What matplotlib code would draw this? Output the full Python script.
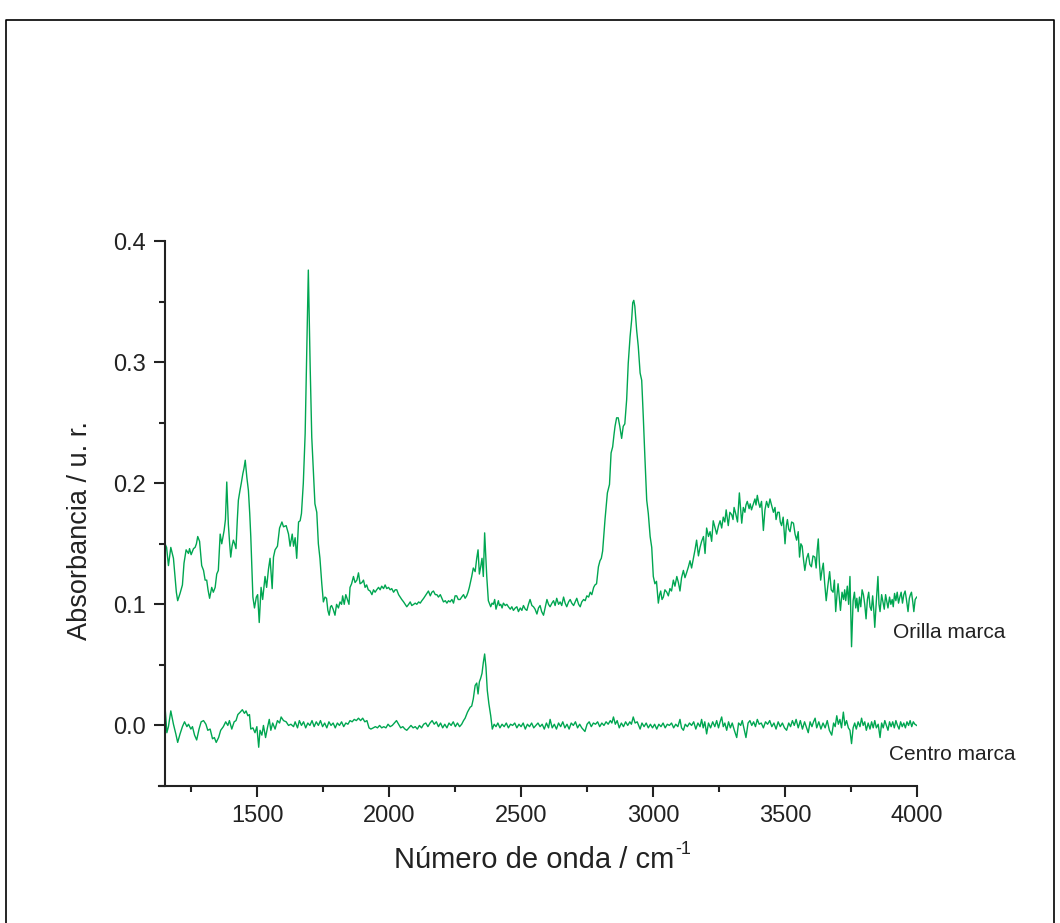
import matplotlib
matplotlib.use("Agg")
import matplotlib.pyplot as plt
from matplotlib.lines import Line2D
from matplotlib.ticker import MultipleLocator

plt.rcParams['font.family'] = ['Liberation Sans', 'DejaVu Sans']

# ---- data: "Orilla marca" (upper spectrum) ----
orilla_x = [1151, 1157, 1164, 1173, 1183, 1189, 1194, 1199, 1208, 1217, 1223, 1231, 1240, 1244, 1250,
            1259, 1265, 1270, 1275, 1282, 1290, 1297, 1303, 1309, 1314, 1320, 1328, 1334, 1341, 1347,
            1353, 1360, 1366, 1375, 1380, 1385, 1391, 1396, 1400, 1405, 1410, 1415, 1420, 1425, 1429,
            1435, 1440, 1446, 1450, 1455, 1461, 1467, 1472, 1476, 1480, 1484, 1490, 1497, 1502, 1508,
            1515, 1521, 1530, 1536, 1543, 1549, 1557, 1562, 1568, 1577, 1585, 1594, 1600, 1610, 1619,
            1625, 1633, 1638, 1644, 1650, 1657, 1663, 1668, 1675, 1682, 1688, 1694, 1701, 1707, 1713,
            1719, 1726, 1732, 1738, 1745, 1751, 1757, 1763, 1768, 1773, 1778, 1782, 1788, 1795, 1801,
            1808, 1814, 1820, 1824, 1830, 1836, 1842, 1848, 1852, 1858, 1865, 1871, 1878, 1884, 1890,
            1897, 1903, 1909, 1915, 1921, 1928, 1935, 1941, 1947, 1953, 1960, 1966, 1972, 1979, 1985,
            1991, 1998, 2004, 2010, 2017, 2023, 2029, 2036, 2042, 2048, 2055, 2061, 2067, 2074, 2080,
            2086, 2093, 2099, 2105, 2112, 2118, 2124, 2131, 2137, 2143, 2149, 2156, 2162, 2168, 2175,
            2181, 2187, 2194, 2200, 2206, 2213, 2219, 2225, 2231, 2238, 2244, 2250, 2256, 2262, 2269,
            2275, 2282, 2288, 2294, 2299, 2304, 2308, 2313, 2319, 2326, 2332, 2337, 2342, 2347, 2352,
            2357, 2362, 2370, 2376, 2385, 2390, 2395, 2400, 2405, 2410, 2414, 2418, 2423, 2428, 2433,
            2440, 2446, 2452, 2459, 2465, 2471, 2478, 2484, 2490, 2497, 2503, 2509, 2516, 2522, 2528,
            2534, 2541, 2547, 2553, 2560, 2566, 2572, 2578, 2585, 2591, 2598, 2604, 2610, 2617, 2623,
            2629, 2635, 2642, 2648, 2654, 2661, 2667, 2673, 2680, 2686, 2692, 2699, 2705, 2711, 2718,
            2724, 2730, 2737, 2743, 2749, 2756, 2762, 2768, 2775, 2780, 2786, 2793, 2799, 2804, 2809,
            2818, 2827, 2835, 2841, 2847, 2852, 2856, 2862, 2868, 2874, 2881, 2887, 2893, 2900, 2906,
            2913, 2919, 2923, 2927, 2931, 2938, 2944, 2951, 2957, 2963, 2969, 2976, 2982, 2989, 2995,
            3001, 3007, 3013, 3020, 3025, 3029, 3034, 3039, 3045, 3052, 3058, 3064, 3070, 3077, 3083,
            3090, 3096, 3102, 3108, 3115, 3121, 3127, 3134, 3140, 3146, 3153, 3159, 3165, 3172, 3178,
            3184, 3191, 3197, 3203, 3210, 3216, 3222, 3228, 3235, 3241, 3248, 3254, 3260, 3266, 3272,
            3277, 3285, 3291, 3298, 3303, 3307, 3313, 3320, 3327, 3336, 3342, 3348, 3352, 3357, 3364,
            3368, 3373, 3380, 3386, 3390, 3395, 3400, 3405, 3411, 3418, 3424, 3430, 3437, 3443, 3450,
            3456, 3462, 3466, 3472, 3478, 3482, 3487, 3493, 3500, 3505, 3509, 3514, 3519, 3525, 3532,
            3538, 3544, 3550, 3555, 3560, 3565, 3570, 3575, 3582, 3588, 3594, 3600, 3606, 3613, 3618,
            3622, 3626, 3630, 3635, 3640, 3645, 3650, 3656, 3662, 3669, 3675, 3682, 3687, 3692, 3697,
            3701, 3706, 3710, 3716, 3722, 3726, 3730, 3736, 3741, 3746, 3752, 3758, 3763, 3768, 3772,
            3777, 3782, 3787, 3792, 3797, 3802, 3807, 3812, 3817, 3822, 3827, 3832, 3836, 3840, 3846,
            3852, 3856, 3860, 3866, 3871, 3876, 3881, 3886, 3890, 3896, 3901, 3906, 3910, 3915, 3920,
            3925, 3930, 3935, 3940, 3945, 3950, 3955, 3960, 3966, 3971, 3975, 3979, 3984, 3988, 3993,
            3999]
orilla_y = [0.150, 0.147, 0.132, 0.147, 0.138, 0.123, 0.110, 0.103, 0.109, 0.116, 0.134, 0.145, 0.142, 0.146, 0.141,
            0.146, 0.147, 0.150, 0.156, 0.152, 0.132, 0.128, 0.120, 0.120, 0.112, 0.105, 0.114, 0.110, 0.114, 0.125,
            0.128, 0.158, 0.150, 0.161, 0.170, 0.201, 0.166, 0.150, 0.139, 0.148, 0.153, 0.150, 0.146, 0.170, 0.186,
            0.194, 0.200, 0.208, 0.212, 0.219, 0.205, 0.194, 0.175, 0.156, 0.130, 0.106, 0.097, 0.106, 0.108, 0.085,
            0.114, 0.104, 0.123, 0.114, 0.129, 0.138, 0.113, 0.139, 0.145, 0.148, 0.163, 0.168, 0.164, 0.165, 0.158,
            0.148, 0.158, 0.148, 0.155, 0.138, 0.168, 0.169, 0.175, 0.200, 0.241, 0.310, 0.376, 0.296, 0.238, 0.211,
            0.183, 0.176, 0.150, 0.138, 0.117, 0.102, 0.106, 0.105, 0.095, 0.091, 0.098, 0.099, 0.096, 0.091, 0.100,
            0.097, 0.102, 0.100, 0.107, 0.100, 0.108, 0.104, 0.100, 0.114, 0.117, 0.123, 0.118, 0.120, 0.126, 0.117,
            0.118, 0.120, 0.114, 0.116, 0.112, 0.111, 0.108, 0.112, 0.110, 0.112, 0.114, 0.112, 0.115, 0.113, 0.116,
            0.113, 0.114, 0.112, 0.113, 0.110, 0.112, 0.112, 0.108, 0.106, 0.104, 0.102, 0.100, 0.098, 0.100, 0.102,
            0.099, 0.100, 0.101, 0.100, 0.102, 0.101, 0.103, 0.105, 0.107, 0.109, 0.111, 0.107, 0.110, 0.111, 0.108,
            0.108, 0.106, 0.108, 0.105, 0.102, 0.103, 0.101, 0.103, 0.102, 0.104, 0.101, 0.107, 0.107, 0.104, 0.104,
            0.106, 0.108, 0.105, 0.107, 0.110, 0.114, 0.118, 0.123, 0.130, 0.127, 0.138, 0.145, 0.125, 0.131, 0.138,
            0.123, 0.159, 0.123, 0.103, 0.098, 0.101, 0.100, 0.104, 0.096, 0.100, 0.103, 0.099, 0.100, 0.097, 0.101,
            0.099, 0.100, 0.098, 0.096, 0.098, 0.095, 0.097, 0.098, 0.094, 0.097, 0.095, 0.099, 0.096, 0.095, 0.100,
            0.104, 0.099, 0.098, 0.096, 0.092, 0.097, 0.099, 0.094, 0.091, 0.097, 0.104, 0.100, 0.098, 0.101, 0.103,
            0.099, 0.105, 0.100, 0.102, 0.099, 0.106, 0.101, 0.098, 0.102, 0.104, 0.101, 0.099, 0.102, 0.105, 0.100,
            0.098, 0.102, 0.104, 0.103, 0.107, 0.106, 0.110, 0.108, 0.114, 0.116, 0.117, 0.131, 0.136, 0.138, 0.144,
            0.170, 0.192, 0.199, 0.225, 0.230, 0.240, 0.247, 0.254, 0.254, 0.247, 0.237, 0.247, 0.249, 0.269, 0.299,
            0.321, 0.335, 0.349, 0.351, 0.346, 0.326, 0.313, 0.291, 0.285, 0.255, 0.222, 0.186, 0.175, 0.156, 0.147,
            0.123, 0.117, 0.119, 0.101, 0.108, 0.111, 0.104, 0.106, 0.112, 0.110, 0.107, 0.113, 0.111, 0.120, 0.115,
            0.123, 0.118, 0.111, 0.122, 0.128, 0.122, 0.126, 0.131, 0.136, 0.130, 0.138, 0.145, 0.153, 0.140, 0.147,
            0.152, 0.156, 0.142, 0.163, 0.156, 0.160, 0.152, 0.169, 0.163, 0.158, 0.165, 0.169, 0.163, 0.172, 0.168,
            0.178, 0.165, 0.176, 0.174, 0.170, 0.180, 0.175, 0.168, 0.192, 0.167, 0.180, 0.176, 0.182, 0.185, 0.179,
            0.183, 0.178, 0.183, 0.187, 0.182, 0.190, 0.184, 0.180, 0.185, 0.161, 0.178, 0.185, 0.180, 0.187, 0.181,
            0.176, 0.180, 0.170, 0.176, 0.176, 0.168, 0.165, 0.172, 0.150, 0.165, 0.170, 0.162, 0.160, 0.168, 0.167,
            0.158, 0.153, 0.160, 0.139, 0.150, 0.148, 0.137, 0.128, 0.138, 0.142, 0.133, 0.131, 0.140, 0.139, 0.130,
            0.145, 0.154, 0.135, 0.120, 0.128, 0.134, 0.118, 0.103, 0.115, 0.127, 0.112, 0.110, 0.120, 0.094, 0.108,
            0.117, 0.105, 0.095, 0.110, 0.104, 0.112, 0.103, 0.115, 0.100, 0.123, 0.065, 0.103, 0.110, 0.097, 0.105,
            0.094, 0.106, 0.098, 0.112, 0.108, 0.100, 0.088, 0.104, 0.110, 0.098, 0.095, 0.107, 0.096, 0.081, 0.103,
            0.123, 0.100, 0.094, 0.108, 0.102, 0.096, 0.108, 0.102, 0.097, 0.106, 0.100, 0.104, 0.098, 0.109, 0.103,
            0.110, 0.101, 0.106, 0.110, 0.101, 0.108, 0.111, 0.104, 0.094, 0.105, 0.108, 0.110, 0.102, 0.094, 0.104,
            0.106]

# ---- data: "Centro marca" (lower spectrum) ----
centro_x = [1151, 1158, 1164, 1173, 1183, 1192, 1199, 1208, 1217, 1225, 1234, 1240, 1249, 1255, 1263,
            1271, 1280, 1288, 1297, 1306, 1313, 1322, 1331, 1338, 1345, 1354, 1362, 1372, 1381, 1389,
            1395, 1404, 1413, 1420, 1427, 1436, 1444, 1452, 1458, 1465, 1471, 1476, 1484, 1492, 1499,
            1506, 1511, 1518, 1524, 1532, 1539, 1546, 1552, 1559, 1568, 1577, 1585, 1591, 1600, 1610,
            1619, 1628, 1638, 1644, 1653, 1660, 1668, 1676, 1684, 1692, 1700, 1708, 1716, 1724, 1732,
            1740, 1748, 1756, 1764, 1772, 1780, 1788, 1796, 1804, 1812, 1820, 1828, 1836, 1844, 1852,
            1860, 1868, 1876, 1884, 1892, 1900, 1908, 1916, 1924, 1931, 1940, 1948, 1956, 1964, 1972,
            1980, 1988, 1996, 2004, 2012, 2020, 2028, 2036, 2044, 2052, 2060, 2067, 2075, 2083, 2091,
            2099, 2107, 2115, 2123, 2131, 2139, 2147, 2155, 2163, 2171, 2179, 2187, 2195, 2203, 2211,
            2219, 2227, 2235, 2243, 2251, 2259, 2267, 2275, 2282, 2288, 2297, 2307, 2313, 2319, 2326,
            2332, 2337, 2342, 2347, 2352, 2357, 2362, 2367, 2372, 2378, 2385, 2391, 2398, 2405, 2412,
            2420, 2428, 2436, 2444, 2452, 2460, 2468, 2476, 2484, 2492, 2500, 2508, 2516, 2524, 2532,
            2540, 2548, 2556, 2564, 2572, 2580, 2588, 2596, 2604, 2610, 2618, 2626, 2634, 2642, 2650,
            2658, 2666, 2674, 2682, 2690, 2698, 2706, 2714, 2722, 2730, 2742, 2750, 2758, 2766, 2774,
            2782, 2790, 2798, 2806, 2814, 2822, 2830, 2838, 2844, 2850, 2857, 2864, 2872, 2880, 2888,
            2896, 2904, 2912, 2918, 2925, 2932, 2940, 2951, 2958, 2966, 2974, 2982, 2990, 2998, 3006,
            3014, 3022, 3030, 3038, 3046, 3054, 3062, 3070, 3078, 3086, 3094, 3102, 3108, 3115, 3122,
            3130, 3138, 3146, 3154, 3162, 3170, 3178, 3184, 3190, 3196, 3203, 3210, 3218, 3226, 3234,
            3241, 3248, 3254, 3260, 3266, 3272, 3279, 3286, 3293, 3300, 3308, 3317, 3324, 3332, 3338,
            3345, 3352, 3360, 3367, 3374, 3381, 3388, 3395, 3402, 3410, 3418, 3426, 3434, 3442, 3450,
            3458, 3466, 3474, 3482, 3490, 3498, 3506, 3514, 3521, 3528, 3535, 3542, 3550, 3558, 3566,
            3574, 3582, 3588, 3595, 3602, 3608, 3614, 3620, 3628, 3636, 3644, 3652, 3660, 3668, 3677,
            3684, 3690, 3696, 3702, 3708, 3714, 3721, 3727, 3733, 3740, 3746, 3752, 3758, 3764, 3770,
            3777, 3784, 3790, 3796, 3802, 3808, 3815, 3822, 3828, 3834, 3840, 3846, 3853, 3860, 3866,
            3872, 3878, 3884, 3890, 3896, 3902, 3908, 3914, 3920, 3926, 3932, 3938, 3944, 3950, 3956,
            3962, 3968, 3974, 3980, 3986, 3992, 3999]
centro_y = [0.016, -0.006, -0.001, 0.012, 0.001, -0.007, -0.014, -0.007, -0.001, 0.003, -0.001, 0.001, -0.003, -0.001, -0.008,
            -0.012, -0.003, 0.003, 0.004, 0.001, -0.004, -0.003, -0.011, -0.010, -0.014, -0.010, -0.004, -0.001, 0.003, 0.000,
            0.004, -0.003, 0.003, 0.004, 0.009, 0.011, 0.013, 0.010, 0.012, 0.008, 0.009, -0.003, -0.002, -0.006, -0.001,
            -0.018, -0.004, -0.008, 0.000, -0.010, -0.002, 0.005, -0.004, 0.002, -0.003, 0.004, 0.002, 0.007, 0.004, 0.003,
            0.000, 0.001, -0.001, 0.003, -0.002, 0.004, 0.000, 0.003, -0.002, 0.002, 0.000, 0.004, -0.001, 0.003, 0.000,
            0.004, -0.001, 0.002, -0.002, 0.003, 0.000, 0.002, -0.002, 0.002, 0.000, 0.003, -0.001, 0.002, 0.001, 0.004,
            0.003, 0.005, 0.004, 0.006, 0.004, 0.006, 0.003, 0.004, -0.002, -0.003, -0.002, -0.001, -0.002, 0.000, -0.002,
            -0.001, -0.002, 0.001, -0.001, 0.000, 0.002, 0.004, 0.001, -0.002, -0.001, -0.003, -0.004, -0.002, 0.000, -0.002,
            -0.001, -0.003, 0.000, -0.002, 0.001, 0.002, -0.001, 0.002, 0.004, 0.001, 0.003, -0.001, 0.002, -0.002, 0.001,
            -0.002, 0.002, 0.000, 0.003, -0.001, 0.002, -0.001, 0.001, 0.004, 0.006, 0.011, 0.015, 0.016, 0.022, 0.033,
            0.035, 0.026, 0.036, 0.039, 0.043, 0.052, 0.059, 0.048, 0.029, 0.018, 0.008, -0.003, 0.001, -0.001, 0.002,
            -0.002, 0.001, -0.001, 0.002, -0.002, 0.001, 0.000, 0.002, -0.002, 0.001, -0.001, 0.002, -0.003, 0.001, -0.001,
            0.002, -0.002, 0.000, 0.002, -0.001, 0.001, -0.003, 0.002, -0.002, 0.005, -0.002, 0.001, -0.003, 0.002, -0.001,
            0.003, -0.002, 0.001, -0.003, 0.002, 0.000, 0.003, -0.002, 0.001, -0.002, -0.005, 0.001, 0.003, -0.001, 0.002,
            0.001, 0.003, -0.001, 0.002, 0.000, 0.003, 0.001, 0.004, 0.002, 0.007, 0.001, 0.004, -0.002, 0.002, -0.001,
            0.003, 0.000, 0.003, 0.001, 0.007, 0.002, 0.003, -0.003, 0.002, -0.001, 0.002, -0.002, 0.001, -0.002, 0.001,
            -0.003, 0.001, -0.001, 0.002, -0.002, 0.001, 0.000, 0.002, -0.002, 0.001, -0.001, 0.005, -0.002, -0.004, 0.001,
            -0.001, 0.002, 0.000, 0.003, -0.003, 0.002, -0.001, 0.005, -0.002, 0.003, -0.007, 0.002, -0.002, 0.003, -0.001,
            0.004, -0.002, 0.003, 0.007, -0.001, 0.002, -0.004, 0.003, -0.002, 0.002, -0.004, -0.010, 0.002, 0.000, 0.004,
            -0.003, -0.010, 0.002, 0.004, 0.000, 0.003, -0.001, 0.005, 0.001, 0.002, -0.002, 0.003, 0.001, 0.004, -0.001,
            0.002, -0.003, 0.003, -0.001, 0.002, -0.002, -0.004, 0.002, -0.001, 0.004, 0.000, 0.005, -0.002, 0.004, -0.003,
            0.003, -0.002, -0.006, 0.003, -0.001, 0.003, 0.006, -0.002, 0.003, -0.003, 0.002, -0.002, 0.004, -0.004, -0.008,
            0.002, -0.001, 0.008, 0.001, 0.005, -0.002, 0.011, 0.000, 0.004, -0.002, -0.004, -0.015, -0.002, 0.002, -0.003,
            0.003, -0.001, 0.006, 0.000, 0.003, -0.004, 0.002, -0.003, 0.003, -0.002, 0.004, -0.002, 0.001, -0.010, 0.002,
            -0.002, 0.004, 0.000, -0.004, 0.003, -0.001, 0.003, -0.002, 0.004, 0.000, -0.003, 0.003, -0.001, 0.002, -0.002,
            0.003, 0.000, 0.004, -0.001, 0.003, 0.001, 0.000]

series_labels = ["Orilla marca", "Centro marca"]
x_ticks = [1500, 2000, 2500, 3000, 3500, 4000]
y_ticks = [0.0, 0.1, 0.2, 0.3, 0.4]

W, H = 1060, 923
fig = plt.figure(figsize=(W / 100, H / 100), dpi=100)
ax = fig.add_axes([165 / W, 1 - 786 / H, (917 - 165) / W, (786 - 241) / H])

green = '#00A651'
ink = '#222222'
ax.plot(orilla_x, orilla_y, color=green, lw=1.0)
ax.plot(centro_x, centro_y, color=green, lw=1.0)

ax.set_xlim(1151, 4000)
ax.set_ylim(-0.05, 0.4)
ax.set_xticks(x_ticks)
ax.set_yticks(y_ticks)
ax.set_yticklabels([f"{v:.1f}" for v in y_ticks])
ax.xaxis.set_minor_locator(MultipleLocator(250))
ax.yaxis.set_minor_locator(MultipleLocator(0.05))

for s in ['top', 'right']:
    ax.spines[s].set_visible(False)
for s in ['left', 'bottom']:
    ax.spines[s].set_linewidth(1.5)
    ax.spines[s].set_color(ink)
ax.spines['bottom'].set_bounds(1128, 4000)

ax.tick_params(which='major', direction='out', length=8, width=1.5, labelsize=17,
               color=ink, labelcolor=ink, pad=6)
ax.tick_params(which='minor', direction='out', length=4.5, width=1.5, color=ink)

fig.text(80 / W, 1 - 531 / H, "Absorbancia / u. r.", rotation=90, ha='center', va='center',
         fontsize=19.5, color=ink)

# x label with a small raised "-1"
xl = fig.text(394 / W, 1 - 860 / H, "Número de onda / cm", ha='left', va='center',
              fontsize=21, color=ink)
fig.canvas.draw()
bb = xl.get_window_extent(renderer=fig.canvas.get_renderer())
fig.text((bb.x1 + 1) / W, (bb.y1 - 4) / H, "-1", ha='left', va='center', fontsize=13, color=ink)

fig.text(893 / W, 1 - 633 / H, series_labels[0], ha='left', va='center', fontsize=15, color=ink)
fig.text(889 / W, 1 - 755 / H, series_labels[1], ha='left', va='center', fontsize=15, color=ink)

# page frame (open at the bottom)
fx0, fx1, fy = 6 / W, 1054 / W, 1 - 20 / H
fig.add_artist(Line2D([fx0, fx0, fx1, fx1], [0, fy, fy, 0], transform=fig.transFigure,
                      color='black', lw=1.2))

fig.savefig("out.png", dpi=100)
